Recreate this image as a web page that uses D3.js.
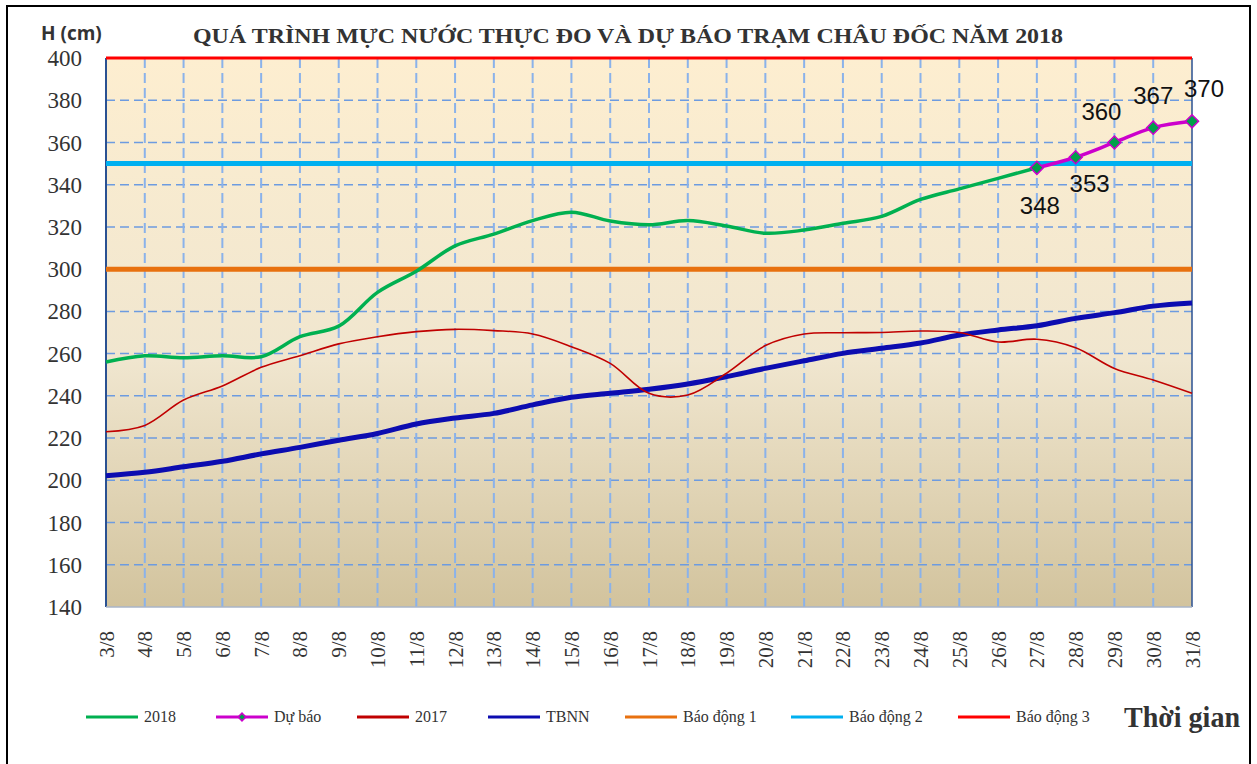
<!DOCTYPE html>
<html>
<head>
<meta charset="utf-8">
<script src="https://cdn.jsdelivr.net/npm/d3@7"></script>
<style>
  body { margin: 0; background: #fff; }
  svg { display: block; }
</style>
</head>
<body>
<svg id="chart" width="1257" height="764"></svg>
<script>
const days = ["3/8", "4/8", "5/8", "6/8", "7/8", "8/8", "9/8", "10/8", "11/8", "12/8",
  "13/8", "14/8", "15/8", "16/8", "17/8", "18/8", "19/8", "20/8", "21/8", "22/8",
  "23/8", "24/8", "25/8", "26/8", "27/8", "28/8", "29/8", "30/8", "31/8"];

// observed 2018, 3/8 .. 27/8
const h2018 = [256, 259, 258, 259, 258.5, 268, 273, 289, 299, 311,
  316.6, 323, 327, 322.8, 321, 323, 320.4, 317, 318.5, 321.7,
  325, 333, 338, 343, 348];

const forecastDays = ["27/8", "28/8", "29/8", "30/8", "31/8"];
const forecast = [348, 353, 360, 367, 370];

const h2017 = [223, 226, 238, 244.7, 253.5, 259, 264.6, 268, 270.4, 271.5,
  270.9, 269.3, 263.3, 255.4, 241.2, 240.4, 250.7, 263.8, 269.3, 269.9,
  270, 270.7, 270, 265.5, 266.8, 262.8, 253, 247.5, 241.2];

const tbnn = [202.2, 203.8, 206.4, 209, 212.5, 215.6, 219, 222.2, 226.7, 229.5,
  231.7, 235.7, 239.3, 241.2, 243.1, 245.6, 249.1, 253, 256.6, 260.1,
  262.5, 265, 268.8, 271.2, 273.2, 276.7, 279.4, 282.5, 284];

const alarmNames = ["Báo động 1", "Báo động 2", "Báo động 3"];
const alarmLevels = [300, 350, 400];
const yTicks = d3.range(140, 401, 20);

const box = { left: 106, right: 1192, top: 58, bottom: 607 };
const serif = "'Liberation Serif', 'Times New Roman', serif";
const sans = "'Liberation Sans', Arial, sans-serif";

const colors = {
  y2018: "#00b050", forecast: "#cc00cc", marker: "#00a04a", y2017: "#c00000",
  tbnn: "#0c0cb0", alarm: ["#e8710f", "#00b0f0", "#ff0000"]
};

const svg = d3.select("#chart");

// outer frame
svg.append("rect")
  .attr("x", 7).attr("y", 6).attr("width", 1243).attr("height", 760)
  .attr("fill", "none").attr("stroke", "#000").attr("stroke-width", 2);

const x = d3.scalePoint().domain(days).range([box.left, box.right]);
const y = d3.scaleLinear().domain([140, 400]).range([box.bottom, box.top]);

const grad = svg.append("defs").append("linearGradient")
  .attr("id", "bg").attr("x1", 0).attr("y1", 0).attr("x2", 0).attr("y2", 1);
grad.append("stop").attr("offset", "0%").attr("stop-color", "#fdeed0");
grad.append("stop").attr("offset", "55%").attr("stop-color", "#f0e6cf");
grad.append("stop").attr("offset", "100%").attr("stop-color", "#d2c39d");

svg.append("rect")
  .attr("x", box.left).attr("y", box.top)
  .attr("width", box.right - box.left).attr("height", box.bottom - box.top)
  .attr("fill", "url(#bg)");

// grid
svg.append("g").selectAll("line")
  .data(yTicks.filter(d => d > 140 && d < 400))
  .join("line")
  .attr("x1", box.left).attr("x2", box.right)
  .attr("y1", d => y(d)).attr("y2", d => y(d))
  .attr("stroke", "#6d9be0").attr("stroke-width", 1.5)
  .attr("stroke-dasharray", "9,5");

svg.append("g").selectAll("line")
  .data(days.slice(1, -1))
  .join("line")
  .attr("x1", d => x(d)).attr("x2", d => x(d))
  .attr("y1", box.top).attr("y2", box.bottom)
  .attr("stroke", "#8ab2ea").attr("stroke-width", 2)
  .attr("stroke-dasharray", "10,5");

// axes frame lines
svg.append("line")
  .attr("x1", box.left).attr("x2", box.left).attr("y1", box.top).attr("y2", box.bottom)
  .attr("stroke", "#2a5192").attr("stroke-width", 2);
svg.append("line")
  .attr("x1", box.right).attr("x2", box.right).attr("y1", box.top).attr("y2", box.bottom)
  .attr("stroke", "#2a5192").attr("stroke-width", 1.5);
svg.append("line")
  .attr("x1", box.left).attr("x2", box.right).attr("y1", box.bottom).attr("y2", box.bottom)
  .attr("stroke", "#a8b4c8").attr("stroke-width", 1.5);

// alarm levels
svg.append("g").selectAll("line")
  .data(alarmLevels)
  .join("line")
  .attr("x1", box.left).attr("x2", box.right)
  .attr("y1", d => y(d)).attr("y2", d => y(d))
  .attr("stroke", (d, i) => colors.alarm[i])
  .attr("stroke-width", (d, i) => i === 2 ? 3 : 5);

const line = d3.line()
  .x(d => x(d[0])).y(d => y(d[1]))
  .curve(d3.curveCatmullRom.alpha(0.5));

const zip = (keys, vals) => vals.map((v, i) => [keys[i], v]);

svg.append("path").datum(zip(days, tbnn))
  .attr("d", line).attr("fill", "none")
  .attr("stroke", colors.tbnn).attr("stroke-width", 5);

svg.append("path").datum(zip(days, h2017))
  .attr("d", line).attr("fill", "none")
  .attr("stroke", colors.y2017).attr("stroke-width", 1.6);

svg.append("path").datum(zip(days, h2018))
  .attr("d", line).attr("fill", "none")
  .attr("stroke", colors.y2018).attr("stroke-width", 3.5);

const fc = zip(forecastDays, forecast);
svg.append("path").datum(fc)
  .attr("d", line).attr("fill", "none")
  .attr("stroke", colors.forecast).attr("stroke-width", 3.5);

const diamond = d3.symbol().type(d3.symbolSquare).size(85);
svg.append("g").selectAll("path")
  .data(fc)
  .join("path")
  .attr("d", diamond)
  .attr("transform", d => `translate(${x(d[0])},${y(d[1])}) rotate(45)`)
  .attr("fill", colors.marker).attr("stroke", colors.forecast).attr("stroke-width", 1.5);

// value labels (dx, dy relative to point)
const labelOffsets = [[3, 46], [14, 35], [-13, -22], [0, -24], [12, -24]];
svg.append("g").selectAll("text")
  .data(fc)
  .join("text")
  .attr("x", (d, i) => x(d[0]) + labelOffsets[i][0])
  .attr("y", (d, i) => y(d[1]) + labelOffsets[i][1])
  .attr("text-anchor", "middle")
  .attr("font-family", sans).attr("font-size", 24)
  .attr("fill", "#111")
  .text(d => d[1]);

// y axis labels
const yAxis = d3.axisLeft(y).tickValues(yTicks).tickSize(0).tickPadding(24);
const gy = svg.append("g").attr("transform", `translate(${box.left},0)`).call(yAxis)
  .attr("font-family", serif);
gy.select(".domain").remove();
gy.selectAll("text")
  .style("font-family", serif).attr("font-size", 23).attr("fill", "#333")
  .attr("dy", "0.33em");

// x axis labels
const xAxis = d3.axisBottom(x).tickSize(0).tickPadding(0);
const gx = svg.append("g").attr("transform", `translate(0,${box.bottom})`).call(xAxis)
  .attr("font-family", serif);
gx.select(".domain").remove();
gx.selectAll("text")
  .style("font-family", serif).attr("font-size", 21).attr("fill", "#333")
  .attr("text-anchor", "end")
  .attr("transform", "translate(7,24) rotate(-90)")
  .attr("x", 0).attr("y", 0).attr("dy", 0);

// titles
svg.append("text")
  .attr("x", 41).attr("y", 40)
  .attr("font-family", "'Open Sans', 'DejaVu Sans', sans-serif")
  .attr("font-weight", "bold").attr("font-size", 19).attr("fill", "#333")
  .text("H (cm)");

svg.append("text")
  .attr("x", 193).attr("y", 43)
  .attr("font-family", serif).attr("font-weight", "bold").attr("font-size", 21)
  .attr("fill", "#333")
  .attr("textLength", 870).attr("lengthAdjust", "spacingAndGlyphs")
  .text("QUÁ TRÌNH MỰC NƯỚC THỰC ĐO VÀ DỰ BÁO TRẠM CHÂU ĐỐC NĂM 2018");

// legend
const legendItems = [
  { name: "2018", color: colors.y2018, x: 86, w: 3 },
  { name: "Dự báo", color: colors.forecast, x: 216, w: 3, marker: true },
  { name: "2017", color: colors.y2017, x: 357, w: 3 },
  { name: "TBNN", color: colors.tbnn, x: 488, w: 3 },
  { name: alarmNames[0], color: colors.alarm[0], x: 625, w: 3 },
  { name: alarmNames[1], color: colors.alarm[1], x: 791, w: 3 },
  { name: alarmNames[2], color: colors.alarm[2], x: 958, w: 3 }
];
const legendY = 717;
const lg = svg.append("g").selectAll("g").data(legendItems).join("g")
  .attr("transform", d => `translate(${d.x},${legendY})`);
lg.append("line")
  .attr("x1", 0).attr("x2", 52)
  .attr("stroke", d => d.color).attr("stroke-width", d => d.w);
lg.filter(d => d.marker).append("path")
  .attr("d", d3.symbol().type(d3.symbolSquare).size(30))
  .attr("transform", "translate(26,0) rotate(45)")
  .attr("fill", colors.marker).attr("stroke", colors.forecast).attr("stroke-width", 1.5);
lg.append("text")
  .attr("x", 58).attr("y", 5)
  .attr("font-family", serif).attr("font-size", 16).attr("fill", "#333")
  .text(d => d.name);

svg.append("text")
  .attr("x", 1124).attr("y", 727)
  .attr("font-family", serif).attr("font-weight", "bold").attr("font-size", 29)
  .attr("fill", "#333")
  .attr("textLength", 116).attr("lengthAdjust", "spacingAndGlyphs")
  .text("Thời gian");
</script>
</body>
</html>
